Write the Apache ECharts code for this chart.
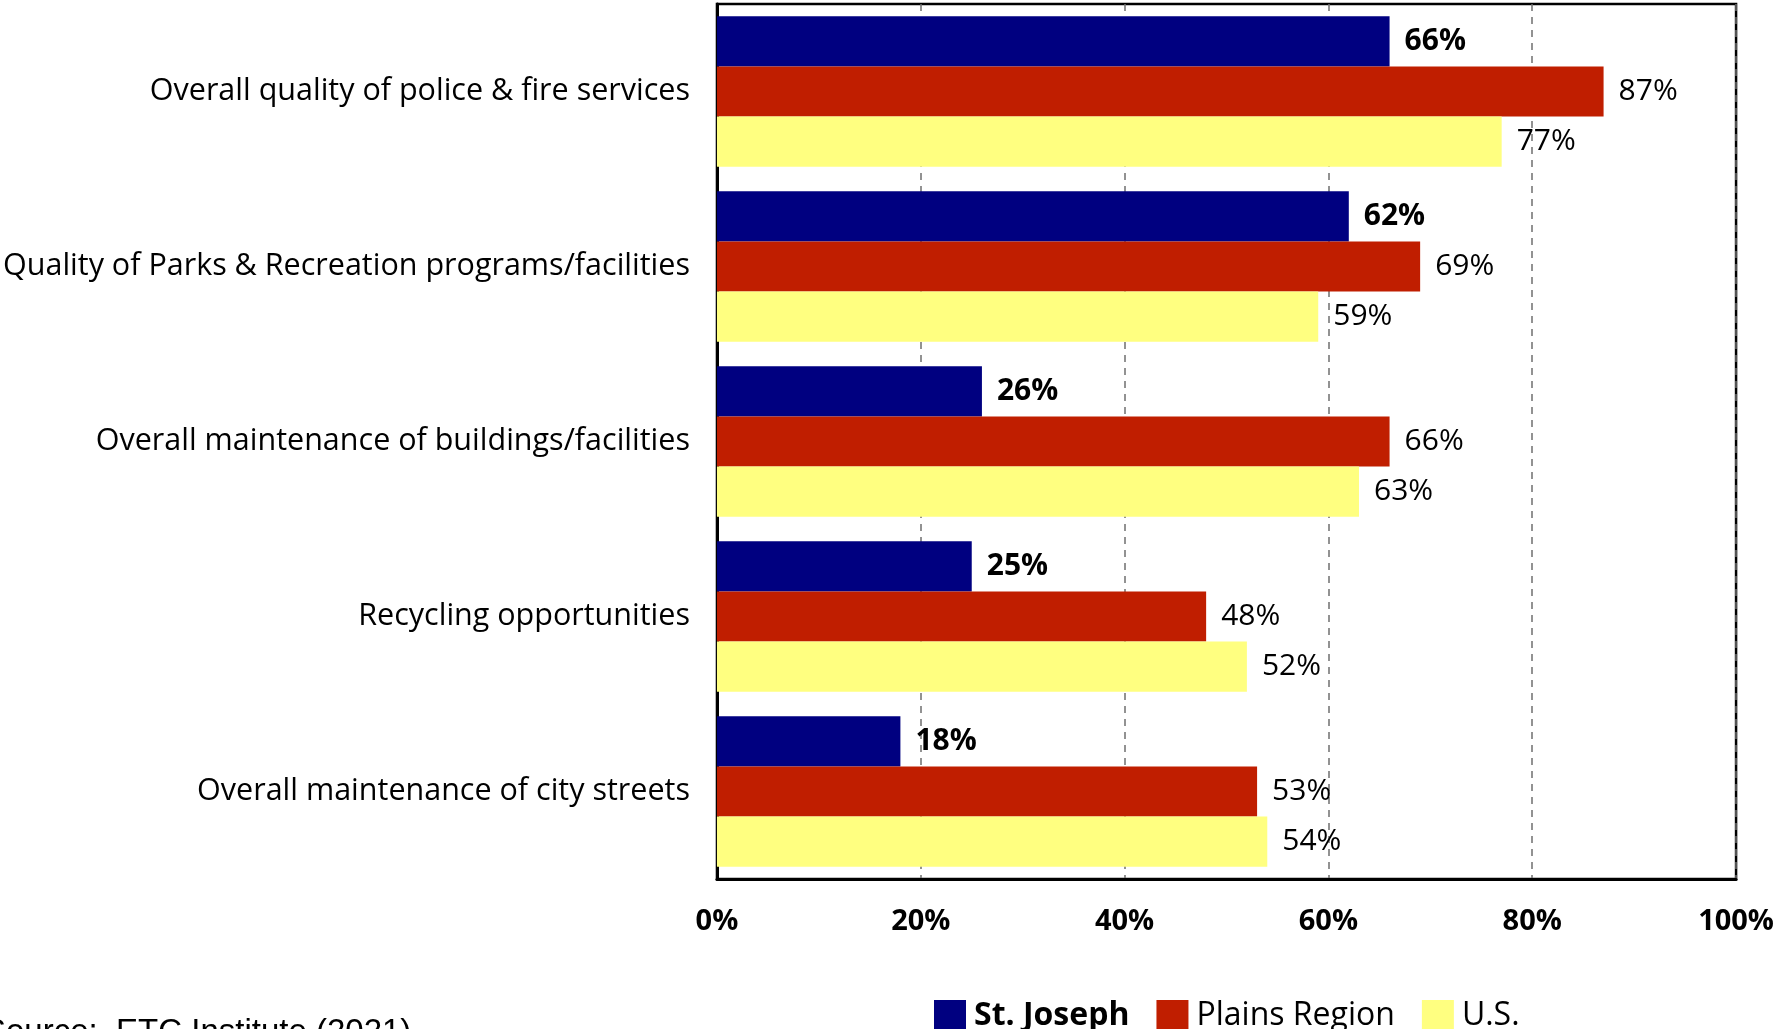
<!DOCTYPE html>
<html><head><meta charset="utf-8">
<script src="https://cdn.jsdelivr.net/npm/echarts@6/dist/echarts.min.js"></script>
<style>html,body{margin:0;padding:0;background:#fff}#c{width:1777px;height:1029px}</style>
</head><body><div id="c"></div>
<script>
const categories = [
  "Overall quality of police & fire services",
  "Quality of Parks & Recreation programs/facilities",
  "Overall maintenance of buildings/facilities",
  "Recycling opportunities",
  "Overall maintenance of city streets"
];
const stJoseph = [66, 62, 26, 25, 18];
const plains = [87, 69, 66, 48, 53];
const us = [77, 59, 63, 52, 54];
const xTicks = [0, 20, 40, 60, 80, 100];
const seriesNames = ["St. Joseph", "Plains Region", "U.S."];
const sourceText = "Source:  ETC Institute (2021)";

const FONT = "Open Sans";
const chart = echarts.init(document.getElementById('c'), null, {renderer: 'canvas'});
function mk(name, data, color, bold) {
  return {
    name: name, type: 'bar', data: data, barGap: '0%', barCategoryGap: '14%',
    itemStyle: {color: color},
    label: {show: true, position: 'right', distance: 15, formatter: '{c}%',
      fontFamily: FONT, fontSize: 30, color: '#000', fontWeight: bold ? 'bold' : 'normal'},
    emphasis: {disabled: true}, animation: false
  };
}
chart.setOption({
  animation: false,
  grid: {left: 716, right: 35, top: 4, bottom: 150, show: true, borderColor: '#000', borderWidth: 2.5, containLabel: false},
  xAxis: {
    type: 'value', min: xTicks[0], max: xTicks[xTicks.length - 1], interval: 20,
    axisLine: {show: true, lineStyle: {color: '#000', width: 3}},
    axisTick: {show: false},
    axisLabel: {formatter: '{value}%', fontFamily: FONT, fontSize: 29, fontWeight: 'bold', color: '#000', margin: 28},
    splitLine: {show: true, lineStyle: {type: [7, 6], color: '#6f6f6f', width: 1.5}}
  },
  yAxis: {
    type: 'category', data: categories, inverse: true,
    axisLine: {show: true, lineStyle: {color: '#000', width: 3}},
    axisTick: {show: false},
    axisLabel: {fontFamily: FONT, fontSize: 30.5, color: '#000', margin: 27}
  },
  legend: {
    data: seriesNames, bottom: -8, left: 929, itemWidth: 32, itemHeight: 32, itemGap: 27,
    icon: 'rect', selectedMode: false,
    formatter: function (n) { return n === seriesNames[0] ? '{b|' + n + '}' : '{n|' + n + '}'; },
    textStyle: {padding: [0, 0, 0, 3], rich: {
      b: {fontFamily: FONT, fontSize: 32, fontWeight: 'bold', color: '#000'},
      n: {fontFamily: FONT, fontSize: 32, color: '#000'}
    }}
  },
  graphic: [{type: 'text', left: -16, top: 1016, style: {text: sourceText, font: '33px "Liberation Sans"', fill: '#000'}}],
  series: [
    mk(seriesNames[0], stJoseph, '#000080', true),
    mk(seriesNames[1], plains, '#C01E00', false),
    mk(seriesNames[2], us, '#FFFF80', false)
  ]
});
</script></body></html>
